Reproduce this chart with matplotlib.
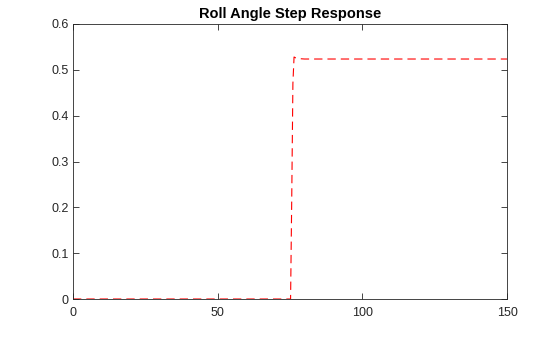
import numpy as np
import matplotlib.pyplot as plt

plt.rcParams['font.family'] = ['Liberation Sans', 'DejaVu Sans']

# roll angle step response (rad)
t = [0, 75.2, 75.6, 76.0, 76.4, 77.0, 78.0, 80.0, 150]
roll = [0, 0, 0.22, 0.47, 0.528, 0.526, 0.5245, 0.5236, 0.5236]

xticks = [0, 50, 100, 150]
yticks = [0, 0.1, 0.2, 0.3, 0.4, 0.5, 0.6]

fig = plt.figure(figsize=(5.6, 3.37), dpi=100)
ax = fig.add_axes([73/560, 1 - 299/337, 434/560, 275/337])

ax.plot(t, roll, color='red', linestyle='--', linewidth=0.8, dashes=(7.5, 4.5))

ax.set_xlim(0, 150)
ax.set_ylim(0, 0.6)
ax.set_xticks(xticks)
ax.set_yticks(yticks)
ax.set_xticklabels([str(v) for v in xticks])
ax.set_yticklabels(['0', '0.1', '0.2', '0.3', '0.4', '0.5', '0.6'])
ax.tick_params(direction='in', top=True, right=True, length=4, width=0.6,
               labelsize=9, colors='#262626', pad=3)
ax.tick_params(axis='x', pad=6)
for s in ax.spines.values():
    s.set_linewidth(0.6)
    s.set_color('#262626')
ax.set_title('Roll Angle Step Response', fontsize=10.5, fontweight='bold', pad=4)

fig.savefig('out.png', dpi=100)
